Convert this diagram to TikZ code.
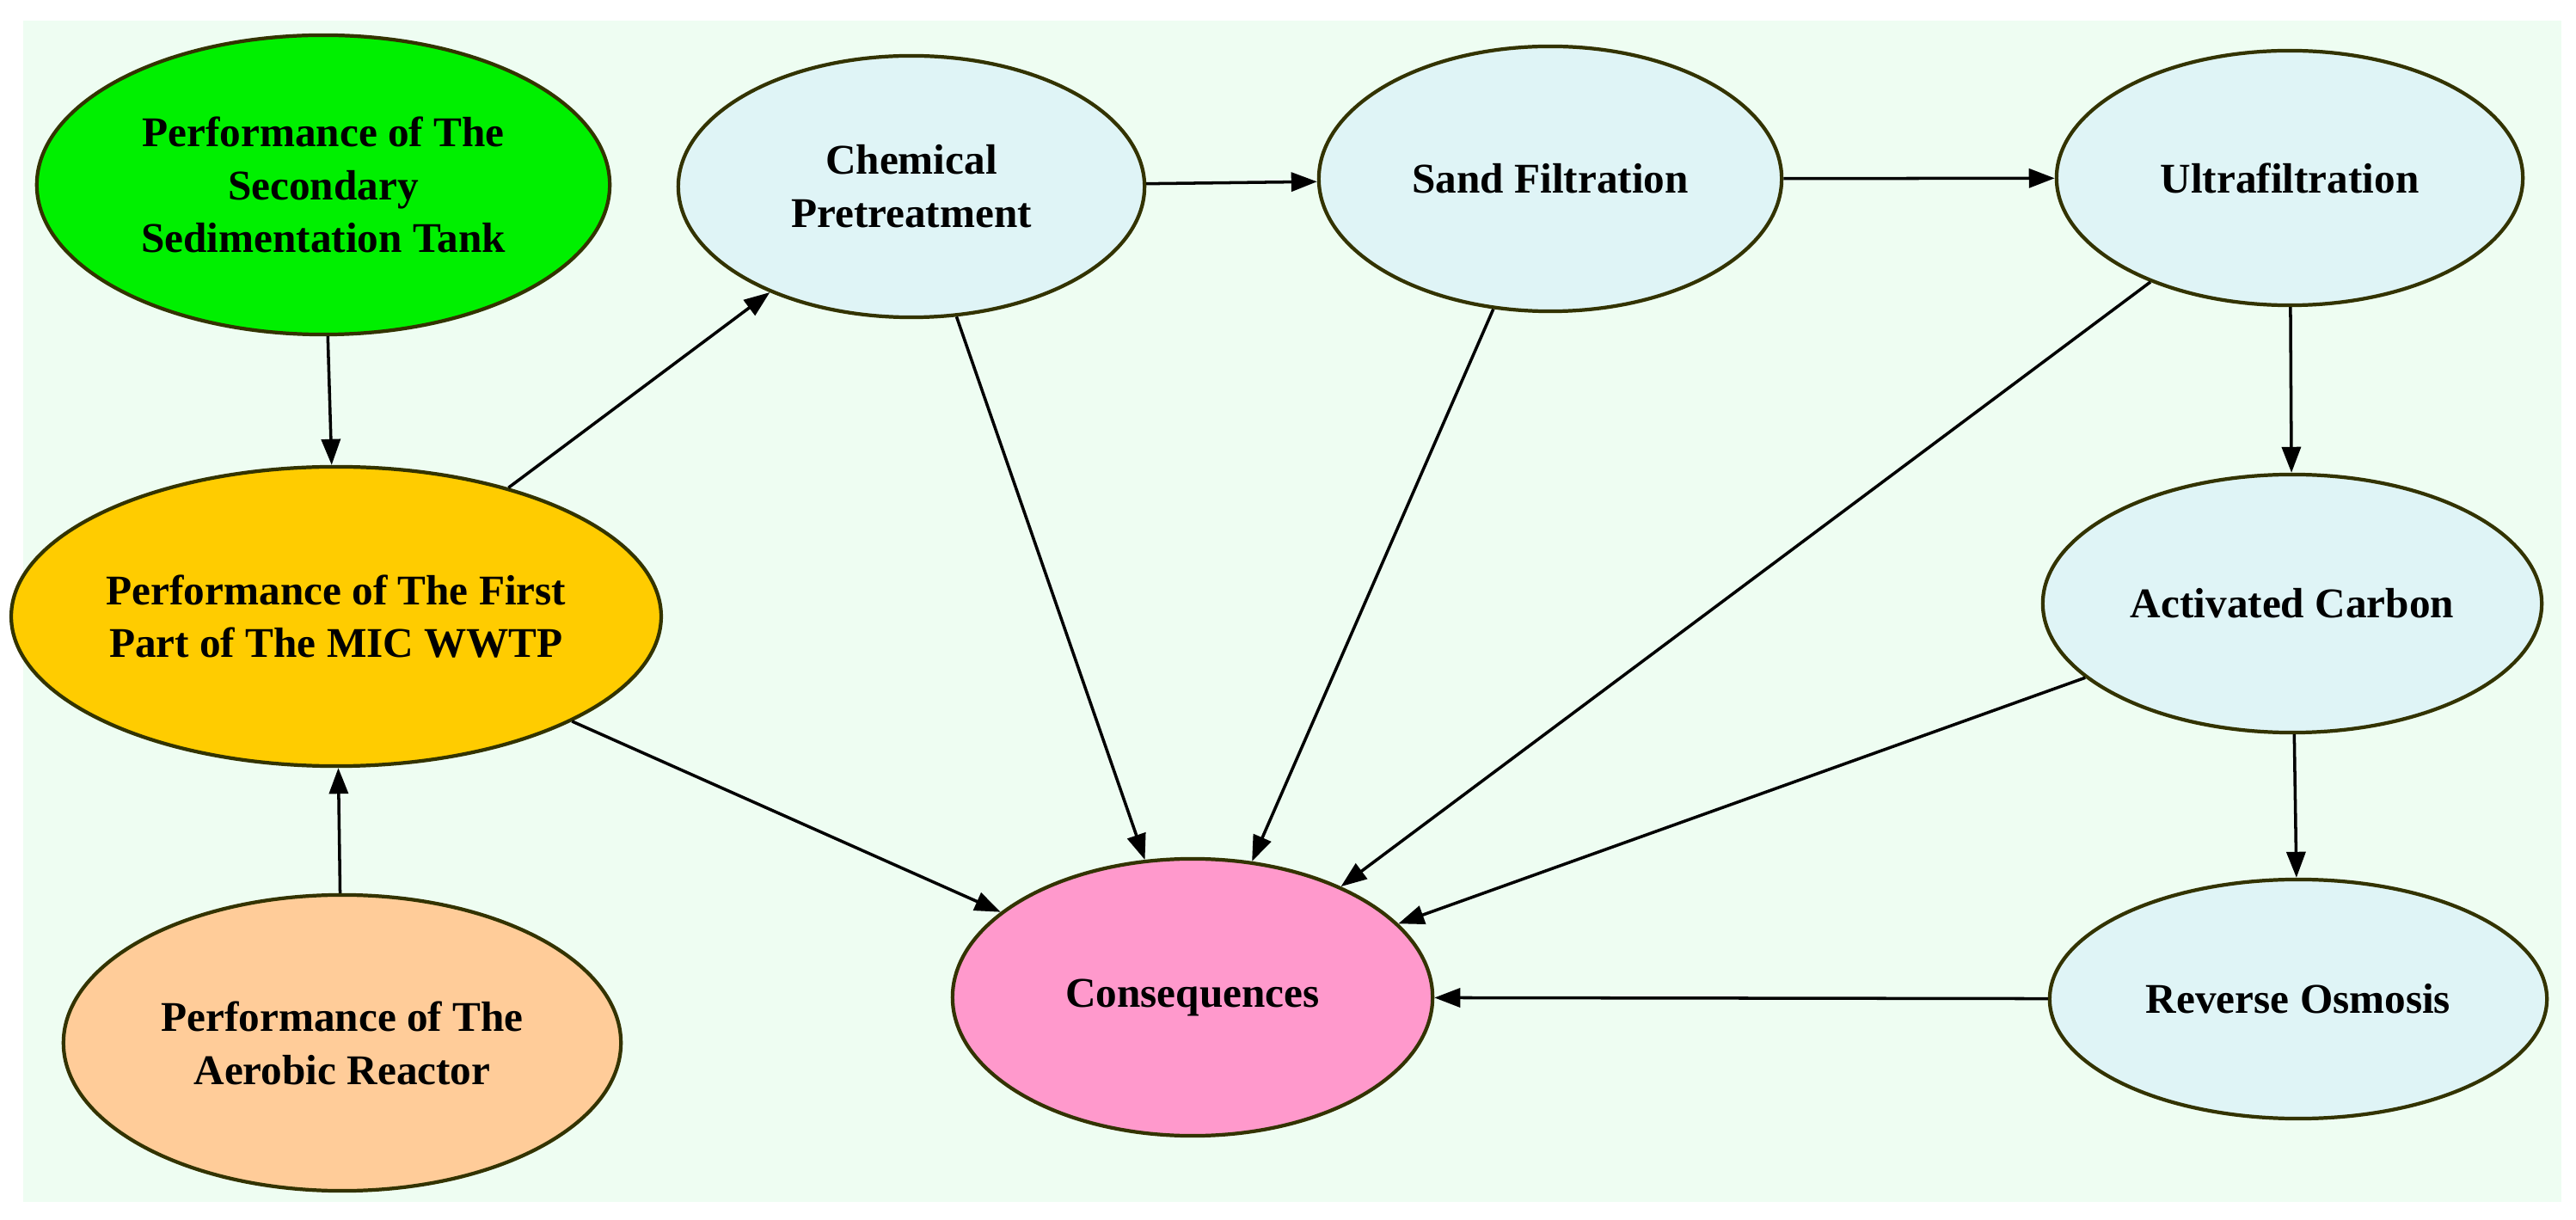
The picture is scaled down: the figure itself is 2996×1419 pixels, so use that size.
\documentclass[tikz,border=0pt]{standalone}
\usepackage{fontspec}
\setmainfont{Liberation Serif}
\usetikzlibrary{shapes.geometric,arrows.meta}
\definecolor{bgGreen}{HTML}{EEFDF2}
\definecolor{rimDark}{HTML}{333300}
\definecolor{colSed}{HTML}{00F000}
\definecolor{colFirst}{HTML}{FFCC00}
\definecolor{colAer}{HTML}{FFCC99}
\definecolor{colStep}{HTML}{DFF4F6}
\definecolor{colCons}{HTML}{FF99CC}
\begin{document}
\begin{tikzpicture}[x=0.01cm,y=-0.01cm]
	\useasboundingbox (0,0) rectangle (2996,1419);
	\fill[bgGreen] (27,24) rectangle (2979,1398);
	\begin{scope}
		[
			styleNode/.style 2 args={
				ellipse, draw=rimDark, line width=1.2pt, inner sep=0pt,
				minimum width=#1cm, minimum height=#2cm,
				align=center, font=\fontsize{14}{17.6}\selectfont\bfseries
				},
		]
		\node(sed)[styleNode={6.66}{3.48}, fill=colSed] at (376,215) {Performance of The\\Secondary\\Sedimentation Tank};
		\node(first)[styleNode={6.9}{3.48}, fill=colFirst] at (391,717) {Performance of The First\\Part of The MIC WWTP};
		\node(aer)[styleNode={6.48}{3.44}, fill=colAer] at (398,1213) {Performance of The\\Aerobic Reactor};
		\node(chem)[styleNode={5.42}{3.04}, fill=colStep] at (1060,217) {Chemical\\Pretreatment};
		\node(sand)[styleNode={5.38}{3.08}, fill=colStep] at (1803,208) {Sand Filtration};
		\node(ultra)[styleNode={5.42}{2.96}, fill=colStep] at (2663,207) {Ultrafiltration};
		\node(carbon)[styleNode={5.8}{3.0}, fill=colStep] at (2666,702) {Activated Carbon};
		\node(ro)[styleNode={5.78}{2.78}, fill=colStep] at (2673,1162) {Reverse Osmosis};
		\node(cons)[styleNode={5.58}{3.22}, fill=colCons] at (1387,1160) {Consequences};
	\end{scope}
	\begin{scope}
		[ link/.style = {-{Triangle[length=0.3cm,width=0.22cm]}, line width=1pt} ]
		\draw[link] (sed) -- (first);
		\draw[link] (aer) -- (first);
		\draw[link] (first) -- (chem);
		\draw[link] (first) -- (cons);
		\draw[link] (chem) -- (sand);
		\draw[link] (sand) -- (ultra);
		\draw[link] (chem) -- (cons);
		\draw[link] (sand) -- (cons);
		\draw[link] (ultra) -- (cons);
		\draw[link] (ultra) -- (carbon);
		\draw[link] (carbon) -- (cons);
		\draw[link] (carbon) -- (ro);
		\draw[link] (ro) -- (cons);
	\end{scope}
\end{tikzpicture}
\end{document}
